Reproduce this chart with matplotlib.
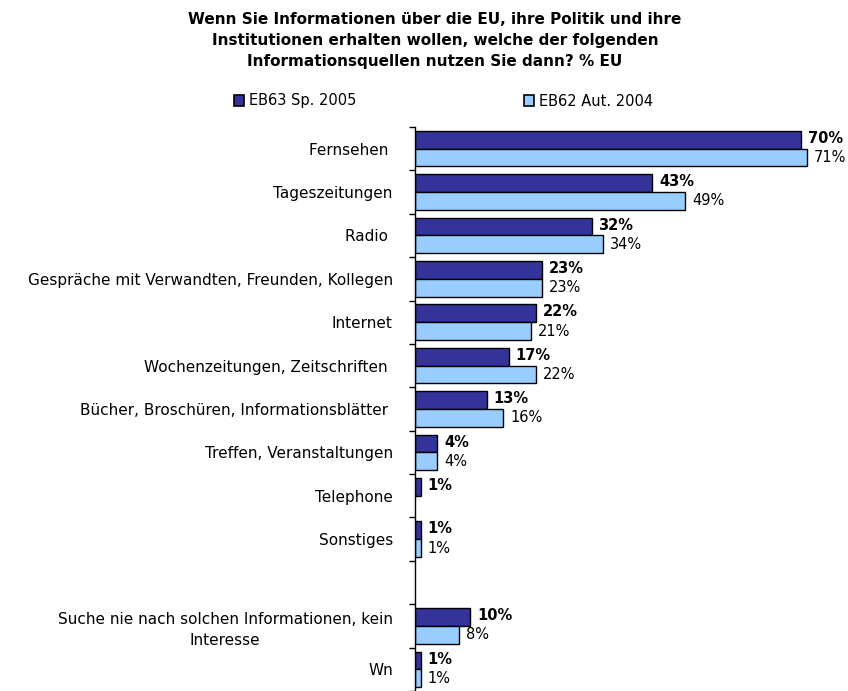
import numpy as np
import matplotlib
matplotlib.use("Agg")
from matplotlib import pyplot as plt
from matplotlib.patches import Patch

# DejaVu is wider than Arial, which stands in for the tracked-out text of the original
plt.rcParams["font.family"] = ["DejaVu Sans"]

# data
categories = [
    "Fernsehen ",
    "Tageszeitungen",
    "Radio ",
    "Gespräche mit Verwandten, Freunden, Kollegen",
    "Internet",
    "Wochenzeitungen, Zeitschriften ",
    "Bücher, Broschüren, Informationsblätter ",
    "Treffen, Veranstaltungen",
    "Telephone",
    "Sonstiges",
    "",
    "Suche nie nach solchen Informationen, kein\nInteresse",
    "Wn",
]
eb63 = [70, 43, 32, 23, 22, 17, 13, 4, 1, 1, np.nan, 10, 1]
eb62 = [71, 49, 34, 23, 21, 22, 16, 4, np.nan, 1, np.nan, 8, 1]
series_names = ["EB63 Sp. 2005", "EB62 Aut. 2004"]

title = ("Wenn Sie Informationen über die EU, ihre Politik und ihre\n"
         "Institutionen erhalten wollen, welche der folgenden\n"
         "Informationsquellen nutzen Sie dann? % EU")

DARK = "#333399"
LIGHT = "#99CCFF"

fig = plt.figure(figsize=(8.48, 6.91), dpi=100)
ax = fig.add_axes([415 / 848, 0.0, 1 - 415 / 848, 1 - 127 / 691])

y = np.arange(len(categories))
h = 0.41
ax.barh(y - h / 2, eb63, height=h, color=DARK, edgecolor="black", linewidth=1)
ax.barh(y + h / 2, eb62, height=h, color=LIGHT, edgecolor="black", linewidth=1)

for yi, v in zip(y, eb63):
    if not np.isnan(v):
        ax.annotate(f"{v:.0f}%", (v, yi - h / 2), xytext=(5, 1), textcoords="offset points",
                    va="center", ha="left", fontsize=10.5, fontweight="bold")
for yi, v in zip(y, eb62):
    if not np.isnan(v):
        ax.annotate(f"{v:.0f}%", (v, yi + h / 2), xytext=(5, 0), textcoords="offset points",
                    va="center", ha="left", fontsize=10.5)

ax.set_xlim(0, 78.5)
ax.set_ylim(12.39, -0.5)

# boundaries as major ticks, labels on minor ticks at the centres
ax.set_yticks(np.arange(len(categories) + 1) - 0.5)
ax.set_yticklabels([])
ax.tick_params(axis="y", which="major", length=4, width=1, direction="out", color="black")
ax.set_yticks(y, minor=True)
ax.set_yticklabels(categories, minor=True, fontsize=11, ha="right")
ax.tick_params(axis="y", which="minor", length=0, pad=16)
for lbl in ax.get_yticklabels(minor=True):
    lbl.set_multialignment("center")
    lbl.set_linespacing(1.5)

ax.set_xticks([])
for s in ["top", "right", "bottom"]:
    ax.spines[s].set_visible(False)
ax.spines["left"].set_linewidth(1)

fig.text(0.513, 1 - 12 / 691, title, ha="center", va="top", fontsize=11,
         fontweight="bold", linespacing=1.5)

colors = [DARK, LIGHT]
anchors = [234, 524]
for name, c, xa in zip(series_names, colors, anchors):
    fig.legend([Patch(facecolor=c, edgecolor="black", linewidth=1.2)], [name],
               loc="center left", bbox_to_anchor=(xa / 848, 1 - 101 / 691),
               frameon=False, fontsize=10.5, handlelength=0.7, handleheight=0.7,
               handletextpad=0.3, borderpad=0, borderaxespad=0)

fig.savefig("out.png", dpi=100)
